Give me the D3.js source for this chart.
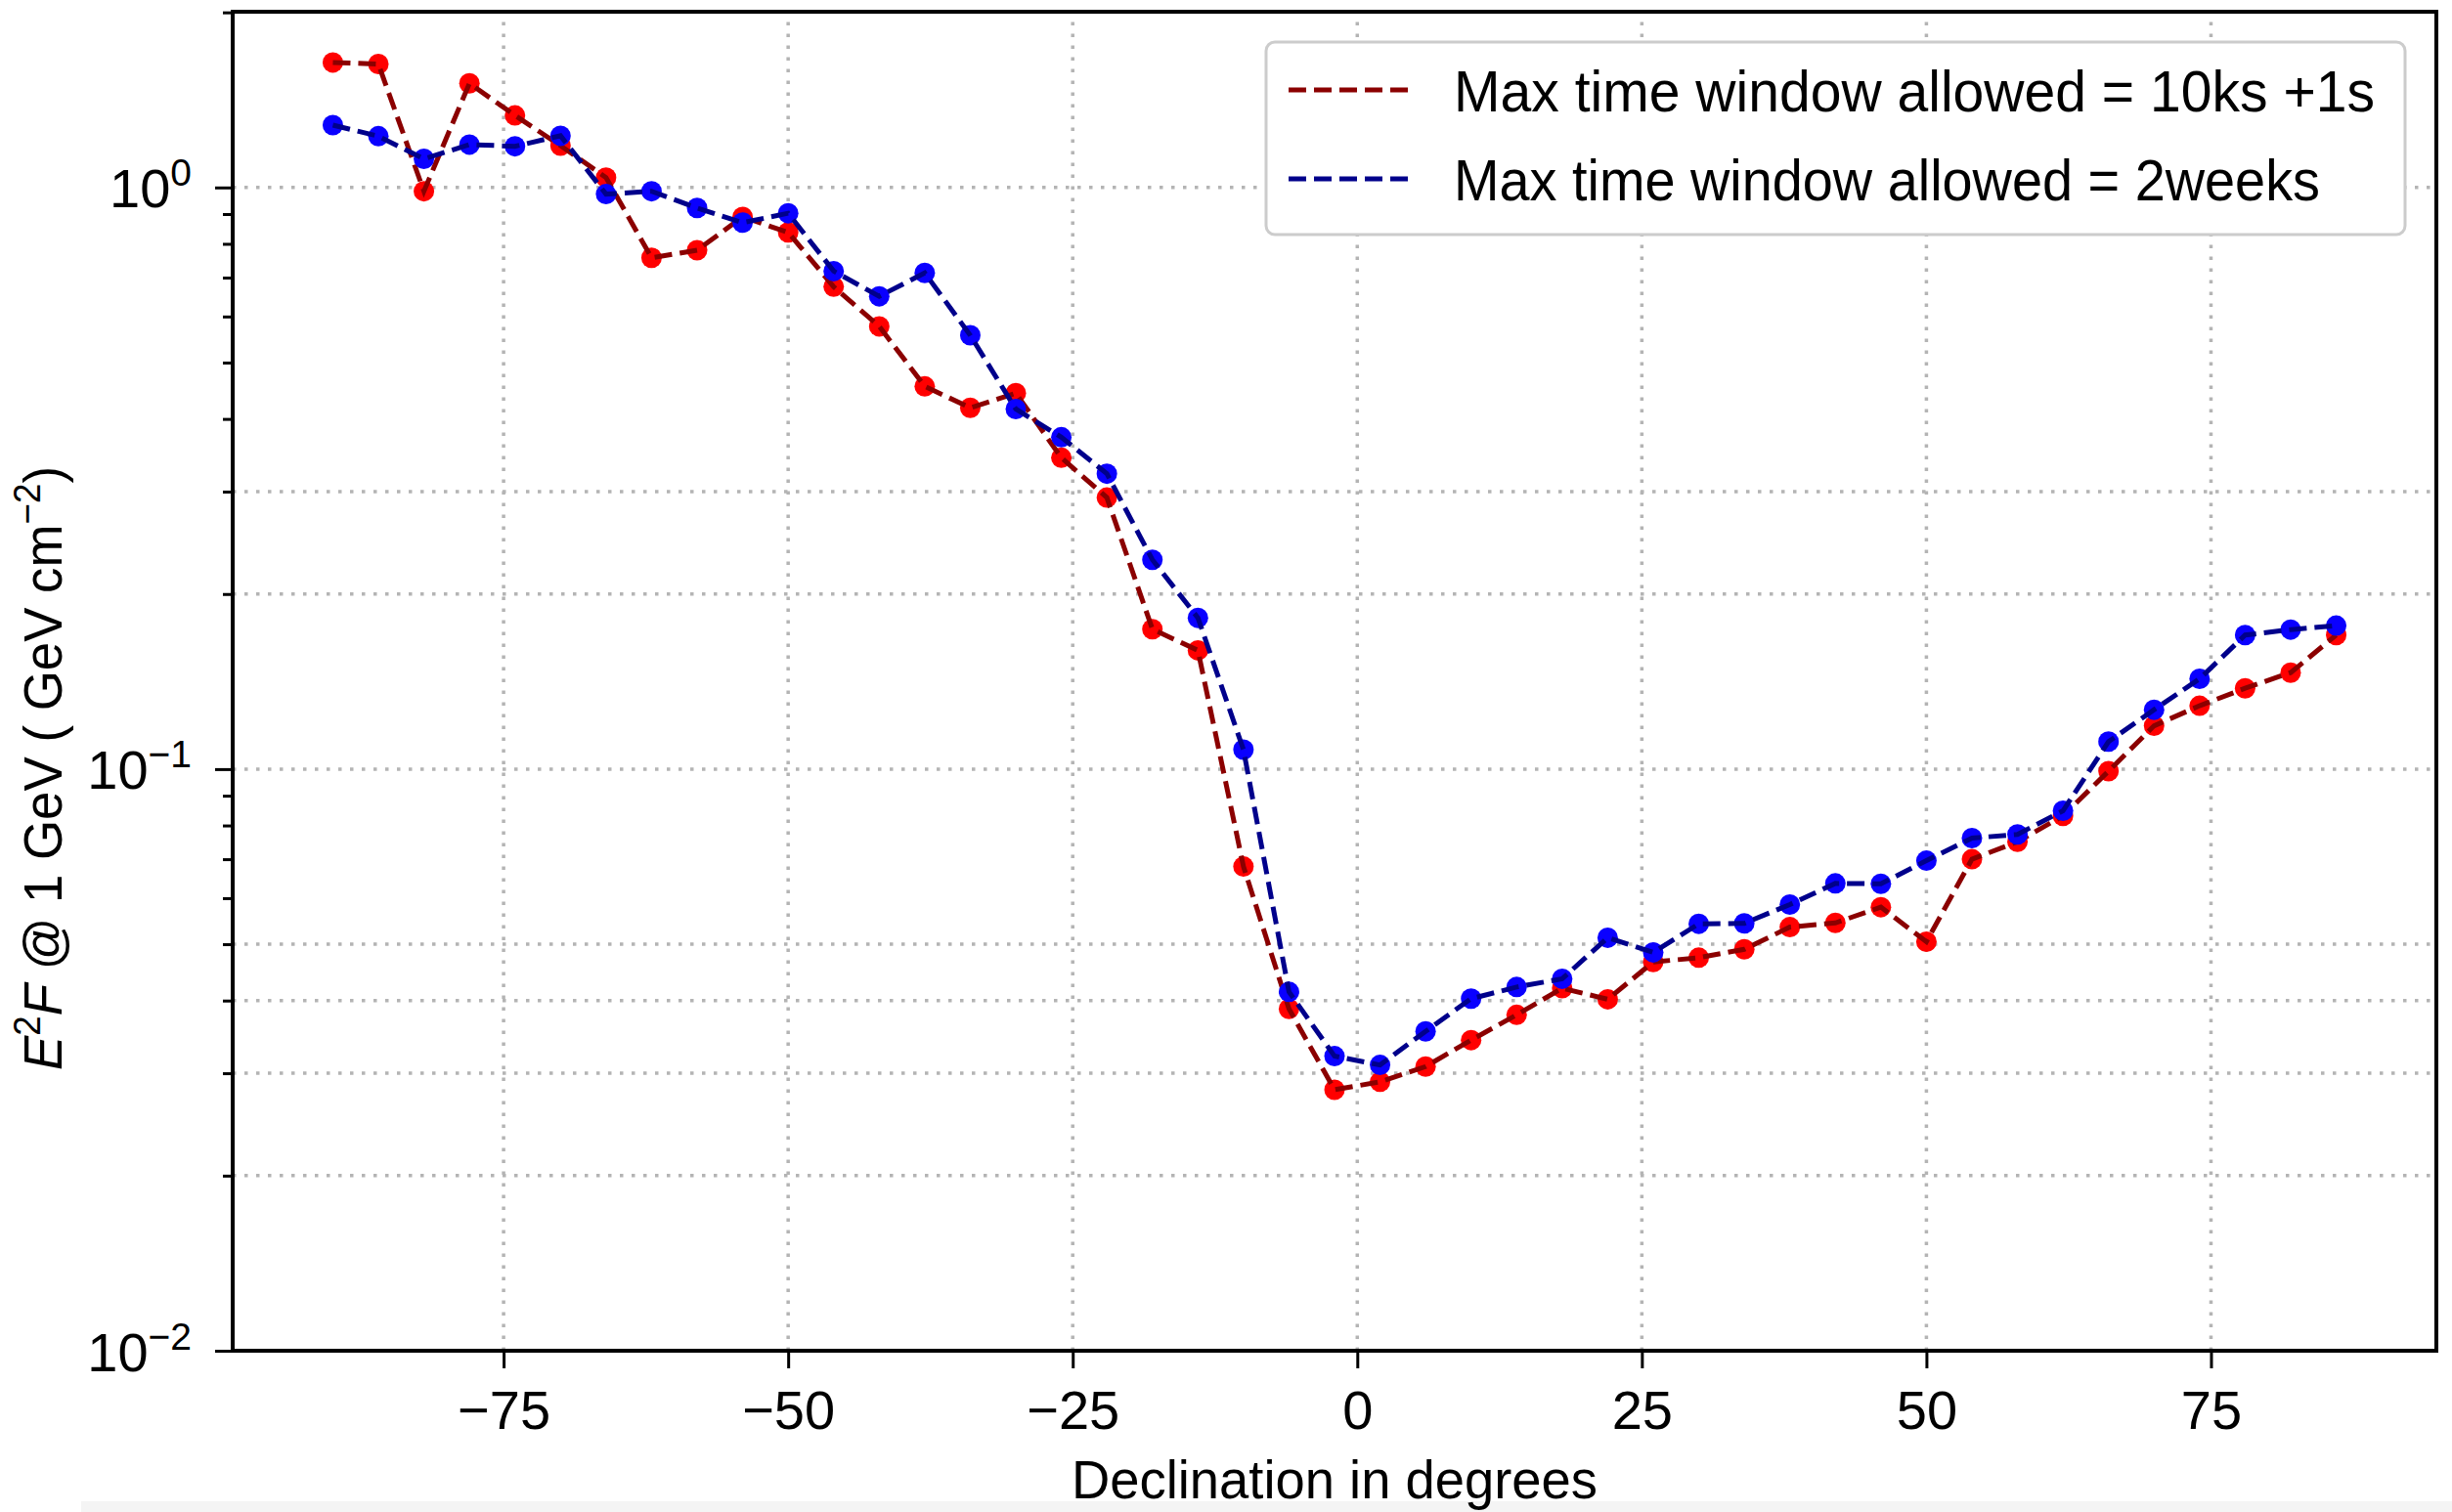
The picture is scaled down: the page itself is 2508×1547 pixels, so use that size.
<!DOCTYPE html>
<html>
<head>
<meta charset="utf-8">
<script src="https://cdn.jsdelivr.net/npm/d3@7"></script>
<style>
  body { margin: 0; background: #ffffff; }
  svg { display: block; }
  text { font-family: "Liberation Sans", Arial, "DejaVu Sans", sans-serif; fill: #000; }
</style>
</head>
<body>
<svg id="chart" width="2508" height="1547"></svg>
<script>
// Source declinations (degrees)
const declination = [-90, -86, -82, -78, -74, -70, -66, -62, -58, -54, -50, -46, -42, -38, -34,
                     -30, -26, -22, -18, -14, -10, -6, -2, 2, 6, 10, 14, 18, 22, 26,
                     30, 34, 38, 42, 46, 50, 54, 58, 62, 66, 70, 74, 78, 82, 86];

// E^2 F at 1 GeV (GeV cm^-2), max time window 10 ks + 1 s
const flux10ks = [1.64, 1.63, 0.985, 1.51, 1.33, 1.18, 1.04, 0.757, 0.78, 0.89, 0.837, 0.675, 0.577, 0.455, 0.418,
                  0.443, 0.343, 0.293, 0.174, 0.160, 0.068, 0.0387, 0.0281, 0.0290, 0.0308, 0.0342, 0.0378, 0.0420, 0.0402, 0.0466,
                  0.0474, 0.0490, 0.0535, 0.0544, 0.0579, 0.0505, 0.0700, 0.0750, 0.0831, 0.0992, 0.1187, 0.1285, 0.1377, 0.1465, 0.170];

// E^2 F at 1 GeV (GeV cm^-2), max time window 2 weeks
const flux2weeks = [1.28, 1.225, 1.12, 1.185, 1.177, 1.227, 0.974, 0.985, 0.922, 0.87, 0.903, 0.718, 0.65, 0.713, 0.557,
                    0.416, 0.372, 0.322, 0.229, 0.182, 0.108, 0.0414, 0.0321, 0.0310, 0.0354, 0.0403, 0.0422, 0.0436, 0.0513, 0.0484,
                    0.0542, 0.0543, 0.0585, 0.0636, 0.0635, 0.0696, 0.0761, 0.0772, 0.0848, 0.1115, 0.1265, 0.1430, 0.170, 0.1737, 0.1765];

const seriesLabels = ["Max time window allowed = 10ks +1s", "Max time window allowed = 2weeks"];

const xTickValues = [-75, -50, -25, 0, 25, 50, 75];
const yMajorTicks = [0.01, 0.1, 1];
const yMinorTicks = [0.02, 0.03, 0.04, 0.05, 0.06, 0.07, 0.08, 0.09,
                     0.2, 0.3, 0.4, 0.5, 0.6, 0.7, 0.8, 0.9, 2];
const yGridValues = [0.02, 0.03, 0.04, 0.05, 0.1, 0.2, 0.3, 1];

const xDomain = [-98.8, 94.8];
const yDomain = [0.01, 2.005];

// ---- layout ----
const plot = { left: 238, right: 2492, top: 12, bottom: 1382 };
const svg = d3.select("#chart");

const x = d3.scaleLinear().domain(xDomain).range([plot.left, plot.right]);
const y = d3.scaleLog().domain(yDomain).range([plot.bottom, plot.top]);

// faint strip along the bottom edge of the figure
svg.append("rect")
  .attr("x", 83).attr("y", 1536).attr("width", 2508 - 83).attr("height", 11)
  .attr("fill", "#f4f4f4");

// ---- grid ----
const gridStyle = g => g.attr("stroke", "#b4b4b4").attr("stroke-width", 3.5)
  .attr("stroke-dasharray", "3.5,8.5").attr("fill", "none");

const grid = svg.append("g").call(gridStyle);
grid.selectAll("line.vg").data(xTickValues).join("line")
  .attr("class", "vg")
  .attr("x1", d => x(d)).attr("x2", d => x(d))
  .attr("y1", plot.bottom).attr("y2", plot.top);
grid.selectAll("line.hg").data(yGridValues).join("line")
  .attr("class", "hg")
  .attr("x1", plot.left).attr("x2", plot.right)
  .attr("y1", d => y(d)).attr("y2", d => y(d));

// ---- series ----
const series = [
  { values: flux10ks, line: "#8b0000", dot: "#ff0000" },
  { values: flux2weeks, line: "#00008b", dot: "#0a00ff" }
];

const lineGen = d3.line().x(d => x(d[0])).y(d => y(d[1]));

series.forEach(s => {
  const pts = declination.map((d, i) => [d, s.values[i]]);
  const g = svg.append("g");
  g.selectAll("circle").data(pts).join("circle")
    .attr("cx", d => x(d[0])).attr("cy", d => y(d[1]))
    .attr("r", 10.5).attr("fill", s.dot);
  g.append("path").datum(pts)
    .attr("d", lineGen)
    .attr("fill", "none")
    .attr("stroke", s.line)
    .attr("stroke-width", 5)
    .attr("stroke-dasharray", "18,8");
});

// ---- axes ----
const minus = v => (v < 0 ? "\u2212" + Math.abs(v) : String(v));

const xAxis = svg.append("g")
  .attr("transform", `translate(0,${plot.bottom})`)
  .call(d3.axisBottom(x).tickValues(xTickValues).tickSize(18).tickFormat(minus));
xAxis.select(".domain").remove();
xAxis.selectAll(".tick line").attr("stroke", "#000").attr("stroke-width", 3);
xAxis.selectAll(".tick text")
  .attr("y", 80).attr("dy", 0)
  .attr("font-size", 56)
  .style("font-family", "'Liberation Sans', Arial, sans-serif");

const yAxisMinor = svg.append("g")
  .attr("transform", `translate(${plot.left},0)`)
  .call(d3.axisLeft(y).tickValues(yMinorTicks.filter(v => v <= yDomain[1])).tickSize(10).tickFormat(""));
yAxisMinor.select(".domain").remove();
yAxisMinor.selectAll(".tick line").attr("stroke", "#000").attr("stroke-width", 3);

const yAxisMajor = svg.append("g")
  .attr("transform", `translate(${plot.left},0)`)
  .call(d3.axisLeft(y).tickValues(yMajorTicks).tickSize(18).tickFormat(""));
yAxisMajor.select(".domain").remove();
yAxisMajor.selectAll(".tick line").attr("stroke", "#000").attr("stroke-width", 3);
yAxisMajor.selectAll(".tick text").remove();
yAxisMajor.selectAll(".tick").each(function (d) {
  const exp = Math.round(Math.log10(d));
  const t = d3.select(this).append("text")
    .attr("x", -42).attr("y", 20)
    .attr("text-anchor", "end")
    .attr("font-size", 56);
  t.append("tspan").text("10");
  t.append("tspan").attr("dy", -22).attr("font-size", 39).text(minus(exp));
});

// frame
svg.append("rect")
  .attr("x", plot.left).attr("y", plot.top)
  .attr("width", plot.right - plot.left).attr("height", plot.bottom - plot.top)
  .attr("fill", "none").attr("stroke", "#000").attr("stroke-width", 4);

// axis titles
svg.append("text")
  .attr("x", (plot.left + plot.right) / 2).attr("y", 1533)
  .attr("text-anchor", "middle")
  .attr("font-size", 56)
  .attr("textLength", 538).attr("lengthAdjust", "spacingAndGlyphs")
  .text("Declination in degrees");

const yTitle = svg.append("text")
  .attr("transform", "translate(63,786) rotate(-90)")
  .attr("text-anchor", "middle")
  .attr("font-size", 56)
  .attr("textLength", 618).attr("lengthAdjust", "spacingAndGlyphs");
yTitle.append("tspan").attr("font-style", "italic").text("E");
yTitle.append("tspan").attr("font-size", 39).attr("dy", -22).text("2");
yTitle.append("tspan").attr("font-style", "italic").attr("dy", 22).text("F");
yTitle.append("tspan").text(" @ 1 GeV ( GeV cm");
yTitle.append("tspan").attr("font-size", 39).attr("dy", -22).text("\u22122");
yTitle.append("tspan").attr("dy", 22).text(")");

// ---- legend ----
const legend = svg.append("g");
legend.append("rect")
  .attr("x", 1295).attr("y", 43).attr("width", 1165).attr("height", 197)
  .attr("rx", 9).attr("ry", 9)
  .attr("fill", "#ffffff").attr("stroke", "#cccccc").attr("stroke-width", 3);

const legendRows = legend.selectAll("g.row").data(series).join("g")
  .attr("class", "row")
  .attr("transform", (d, i) => `translate(1318,${92 + i * 91})`);
legendRows.append("line")
  .attr("x1", 0).attr("x2", 124).attr("y1", 0).attr("y2", 0)
  .attr("stroke", d => d.line).attr("stroke-width", 5)
  .attr("stroke-dasharray", "18,8");
const legendWidths = [942, 886];
legendRows.append("text")
  .attr("x", 169).attr("y", 22)
  .attr("font-size", 59)
  .attr("textLength", (d, i) => legendWidths[i]).attr("lengthAdjust", "spacingAndGlyphs")
  .text((d, i) => seriesLabels[i]);
</script>
</body>
</html>
